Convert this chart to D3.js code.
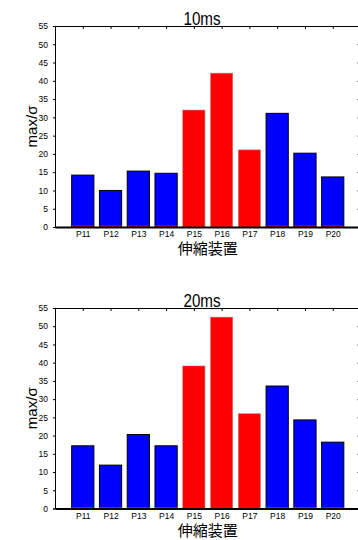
<!DOCTYPE html>
<html>
<head>
<meta charset="utf-8">
<script src="https://cdn.jsdelivr.net/npm/d3@7"></script>
<style>
  body { margin: 0; background: #fff; }
  svg { display: block; }
  .tick text { font-family: "Liberation Sans", Arial, sans-serif; font-size: 8.5px; fill: #000; }
  .ttl { font-family: "Liberation Sans", Arial, sans-serif; font-size: 19px; }
  .ylab { font-family: "Liberation Sans", Arial, sans-serif; font-size: 15px; }
  .xlab { font-family: "Noto Sans CJK JP", sans-serif; font-size: 15px; }
</style>
</head>
<body>
<svg width="358" height="540"></svg>
<script>
var categories = ["P11", "P12", "P13", "P14", "P15", "P16", "P17", "P18", "P19", "P20"];
var redGroup = [false, false, false, false, true, true, true, false, false, false];
var values10 = [14.2, 10.0, 15.3, 14.7, 32.0, 42.1, 21.1, 31.1, 20.2, 13.7];
var values20 = [17.2, 11.9, 20.3, 17.2, 39.1, 52.5, 26.0, 33.6, 24.3, 18.2];
var yTicks = [0, 5, 10, 15, 20, 25, 30, 35, 40, 45, 50, 55];
var titles = ["10ms", "20ms"];

var svg = d3.select("svg");
var left = 55, right = 360.5;

var x = d3.scaleLinear().domain([0, 11]).range([left, right]);
var barW = x(0.8) - x(0);

function panel(values, title, top, bottom) {
    var y = d3.scaleLinear().domain([0, 55]).range([bottom, top]);
    var g = svg.append("g");

    // bars
    categories.forEach(function (c, i) {
        var cx = x(i + 1);
        if (redGroup[i]) {
            g.append("rect")
                .attr("x", cx - barW / 2)
                .attr("y", y(values[i]))
                .attr("width", barW)
                .attr("height", y(0) - y(values[i]))
                .style("fill", "#ff0000")
                .style("stroke", "#c08080")
                .style("stroke-width", 0.6);
        } else {
            g.append("rect")
                .attr("x", cx - barW / 2)
                .attr("y", y(values[i]))
                .attr("width", barW)
                .attr("height", y(0) - y(values[i]))
                .style("fill", "#0000ff")
                .style("stroke", "#000")
                .style("stroke-width", 1);
            // zero-height red series drawn at the base
            g.append("line")
                .attr("x1", cx - barW / 2).attr("x2", cx + barW / 2)
                .attr("y1", y(0) - 0.8).attr("y2", y(0) - 0.8)
                .style("stroke", "#ff0000")
                .style("stroke-width", 1.2);
        }
    });

    // axes
    var yAxis = d3.axisLeft(y).tickValues(yTicks).tickSize(2).tickPadding(5);
    g.append("g").attr("transform", "translate(" + left + ",0)").call(yAxis)
        .call(function (a) { a.select(".domain").style("stroke-width", 1); });

    var yRight = d3.axisLeft(y).tickValues(yTicks).tickSize(3).tickFormat("");
    g.append("g").attr("transform", "translate(" + right + ",0)").call(yRight);

    var ticksX = d3.range(1, 11);
    var xAxis = d3.axisBottom(x).tickValues(ticksX).tickSize(0).tickPadding(4)
        .tickFormat(function (d) { return categories[d - 1]; });
    g.append("g").attr("transform", "translate(0," + bottom + ")").call(xAxis)
        .call(function (a) {
            a.select(".domain").style("stroke-width", 2);
        });

    var xTop = d3.axisBottom(x).tickValues(ticksX).tickSize(3).tickFormat("");
    g.append("g").attr("transform", "translate(0," + top + ")").call(xTop);

    // labels (title drawn narrow like the original)
    g.append("text").attr("class", "ttl")
        .attr("text-anchor", "middle")
        .attr("transform", "translate(202," + (top - 1) + ")scale(0.8,1)")
        .text(title);

    g.append("text").attr("class", "ylab")
        .attr("text-anchor", "middle")
        .attr("transform", "translate(37," + ((top + bottom) / 2) + ")rotate(-90)")
        .text("max/σ");

    g.append("text").attr("class", "xlab")
        .attr("x", (left + right) / 2).attr("y", bottom + 27)
        .attr("text-anchor", "middle")
        .text("伸縮装置");
}

panel(values10, titles[0], 26, 227);
panel(values20, titles[1], 308, 508.5);
</script>
</body>
</html>
